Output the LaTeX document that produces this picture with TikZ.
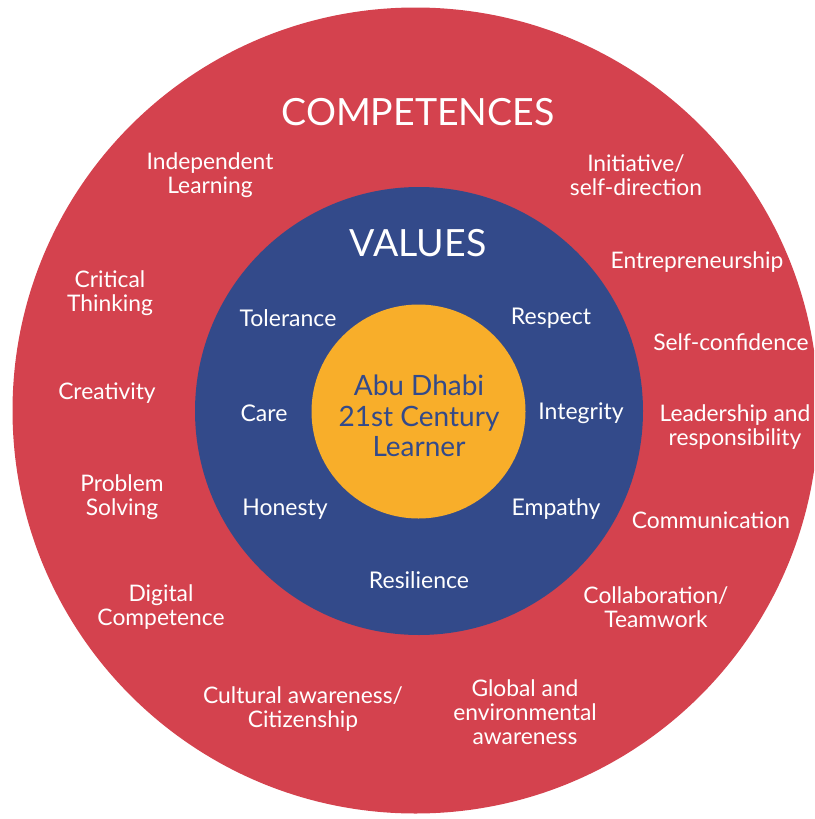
\documentclass[tikz,border=0pt]{standalone}
\usepackage{fontspec}
\setmainfont{Lato}
\definecolor{compred}{HTML}{D4424E}
\definecolor{valblue}{HTML}{334A8A}
\definecolor{learnyellow}{HTML}{F8AE2A}

\begin{document}
\begin{tikzpicture}[x=1pt, y=-1pt,
	comp/.style={text=white, align=center, font=\fontsize{22.8}{24}\selectfont},
	val/.style={text=white, align=center, font=\fontsize{23}{24}\selectfont},
	ring/.style={text=white, font=\fontsize{37.5}{40}\selectfont}]
	%%%%% START %%%%%
	\useasboundingbox (0, 0) rectangle (814, 819);
	\clip (0, 0) rectangle (814, 819);

	\fill[compred] (415.5, 410.5) circle (403pt);
	\fill[valblue] (419, 411) circle (224pt);
	\fill[learnyellow] (418.5, 411.5) circle (107pt);

	\node[ring] (competences) at (418, 112) {COMPETENCES};
	\node[ring] (values) at (418, 243) {VALUES};

	\node[text=valblue, align=center, font=\fontsize{28}{30.5}\selectfont] (learner) at (419, 416) {Abu Dhabi\\21st Century\\Learner};

	% values
	\node[val] (tolerance) at (288, 318) {Tolerance};
	\node[val] (respect) at (551, 318) {Respect};
	\node[val] (care) at (264, 413) {Care};
	\node[val] (integrity) at (581, 413) {Integrity};
	\node[val] (honesty) at (285, 509) {Honesty};
	\node[val] (empathy) at (556, 509) {Empathy};
	\node[val] (resilience) at (419, 580) {Resilience};

	% competences
	\node[comp] (independent) at (210, 175) {Independent\\Learning};
	\node[comp] (initiative) at (636, 175) {Initiative/\\self-direction};
	\node[comp] (critical) at (110, 293) {Critical\\Thinking};
	\node[comp] (entrepreneur) at (697, 262) {Entrepreneurship};
	\node[comp] (selfconf) at (731, 342) {Self-confidence};
	\node[comp] (creativity) at (107, 393) {Creativity};
	\node[comp] (leadership) at (735, 427) {Leadership and\\responsibility};
	\node[comp] (problem) at (122, 497) {Problem\\Solving};
	\node[comp] (communication) at (711, 520) {Communication};
	\node[comp] (digital) at (161, 607) {Digital\\Competence};
	\node[comp] (collab) at (656, 607) {Collaboration/\\Teamwork};
	\node[comp] (cultural) at (303, 709) {Cultural awareness/\\Citizenship};
	\node[comp] (global) at (525, 712) {Global and\\environmental\\awareness};
	%%%%% END %%%%%
\end{tikzpicture}
\end{document}
